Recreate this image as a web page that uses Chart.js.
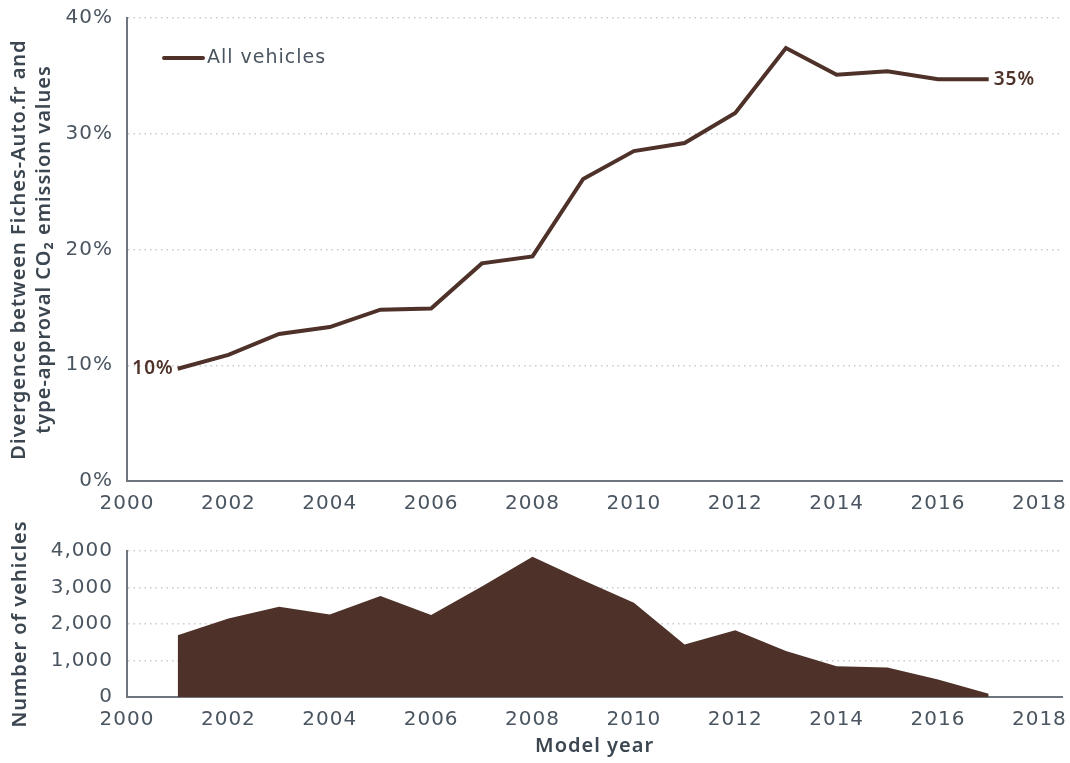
<!DOCTYPE html>
<html>
<head>
<meta charset="utf-8">
<script src="https://cdn.jsdelivr.net/npm/chart.js@4/dist/chart.umd.min.js"></script>
<style>
  body { margin: 0; background: #fff; }
  #wrap { position: relative; width: 1070px; height: 763px; }
  #top { position: absolute; left: 0; top: 0; width: 1070px; height: 520px; }
  #bottom { position: absolute; left: 0; top: 520px; width: 1070px; height: 243px; }
</style>
</head>
<body>
<div id="wrap">
  <div id="top"><canvas id="divChart"></canvas></div>
  <div id="bottom"><canvas id="countChart"></canvas></div>
</div>
<script>
// model years and values
const years = [2001, 2002, 2003, 2004, 2005, 2006, 2007, 2008, 2009, 2010, 2011, 2012, 2013, 2014, 2015, 2016, 2017];
const divergence = [9.7, 10.9, 12.7, 13.3, 14.8, 14.9, 18.8, 19.4, 26.1, 28.5, 29.2, 31.8, 37.4, 35.1, 35.4, 34.7, 34.7];
const vehicles = [1690, 2150, 2470, 2260, 2770, 2250, 3030, 3840, 3200, 2580, 1440, 1830, 1260, 840, 810, 480, 90];
const yearTicks = [2000, 2002, 2004, 2006, 2008, 2010, 2012, 2014, 2016, 2018];

const brown = '#4e3229';
const tickColor = '#4a5560';
const titleColor = '#3b4650';
const axisColor = '#6d767e';
const gridColor = '#c8cbcd';
const TICKFONT = '"DejaVu Sans", sans-serif';
const TITLEFONT = '"Noto Sans", sans-serif';

Chart.defaults.font.family = TICKFONT;
Chart.defaults.color = tickColor;

// the original typeface is wide; open the letters up a little
const spacing = {
  id: 'spacing',
  beforeUpdate(chart) { chart.ctx.letterSpacing = '1px'; },
  beforeDraw(chart) { chart.ctx.letterSpacing = '1px'; }
};

const xScale = (extra) => Object.assign({
  type: 'linear',
  min: 2000,
  max: 2018.45,
  afterBuildTicks: s => { s.ticks = yearTicks.map(v => ({ value: v })); },
  ticks: { font: { size: 20 }, color: tickColor, padding: 3, maxRotation: 0, callback: v => String(v) },
  grid: { display: false },
  border: { color: axisColor, width: 2 }
}, extra);

// fixed y axis width so both panels line up; drop the extra label padding
const fitY = s => { s.width = 127; s.paddingTop = 0; s.paddingBottom = 0; };

// end labels + legend drawn inside the plot area
const labelPlugin = {
  id: 'endLabels',
  afterDatasetsDraw(chart) {
    const { ctx, chartArea } = chart;
    const pts = chart.getDatasetMeta(0).data;
    const first = pts[0], last = pts[pts.length - 1];
    ctx.save();
    ctx.font = '600 19px ' + TITLEFONT;
    ctx.fillStyle = brown;
    ctx.textBaseline = 'middle';
    ctx.textAlign = 'right';
    ctx.fillText(Math.round(divergence[0]) + '%', first.x - 4, first.y);
    ctx.textAlign = 'left';
    ctx.fillText(Math.round(divergence[divergence.length - 1]) + '%', last.x + 5, last.y);

    const lx = chartArea.left + 37, ly = chartArea.top + 40;
    ctx.strokeStyle = brown;
    ctx.lineWidth = 4;
    ctx.lineCap = 'round';
    ctx.beginPath();
    ctx.moveTo(lx, ly);
    ctx.lineTo(lx + 39, ly);
    ctx.stroke();
    ctx.font = '19px ' + TICKFONT;
    ctx.fillStyle = tickColor;
    ctx.fillText('All vehicles', lx + 43, ly);
    ctx.restore();
  }
};

new Chart(document.getElementById('divChart'), {
  type: 'line',
  data: {
    datasets: [{
      label: 'All vehicles',
      data: years.map((y, i) => ({ x: y, y: divergence[i] })),
      borderColor: brown,
      borderWidth: 4,
      pointRadius: 0,
      tension: 0,
      fill: false
    }]
  },
  options: {
    responsive: true,
    maintainAspectRatio: false,
    animation: false,
    layout: { padding: { top: 18, right: 7, left: 0, bottom: 0 } },
    plugins: { legend: { display: false }, tooltip: { enabled: false } },
    scales: {
      x: xScale({ afterFit: s => { s.height = 39; } }),
      y: {
        min: 0,
        max: 40,
        afterFit: fitY,
        ticks: { stepSize: 10, font: { size: 20 }, color: tickColor, padding: 14, callback: v => v + '%' },
        grid: { color: gridColor, lineWidth: 1.5, drawTicks: false },
        border: { color: axisColor, width: 2, dash: [1.5, 4] },
        title: {
          display: true,
          text: ['Divergence between Fiches-Auto.fr and', 'type-approval CO\u2082 emission values'],
          font: { family: TITLEFONT, size: 20, weight: '600', lineHeight: 1.25 },
          color: titleColor,
          padding: { top: 7, bottom: 0 }
        }
      }
    }
  },
  plugins: [spacing, labelPlugin]
});

new Chart(document.getElementById('countChart'), {
  type: 'line',
  data: {
    datasets: [{
      label: 'Number of vehicles',
      data: years.map((y, i) => ({ x: y, y: vehicles[i] })),
      borderColor: brown,
      borderWidth: 0,
      backgroundColor: brown,
      pointRadius: 0,
      tension: 0,
      fill: 'origin'
    }]
  },
  options: {
    responsive: true,
    maintainAspectRatio: false,
    animation: false,
    layout: { padding: { top: 31, right: 7, left: 0, bottom: 0 } },
    plugins: { legend: { display: false }, tooltip: { enabled: false } },
    scales: {
      x: xScale({
        afterFit: s => { s.height = 66; },
        title: { display: true, text: 'Model year', font: { family: TITLEFONT, size: 20, weight: '600' }, color: titleColor, padding: { top: 2, bottom: 5 } }
      }),
      y: {
        min: 0,
        max: 4000,
        afterFit: fitY,
        ticks: { stepSize: 1000, font: { size: 20 }, color: tickColor, padding: 14, callback: v => v.toLocaleString('en-US') },
        grid: { color: gridColor, lineWidth: 1.5, drawTicks: false },
        border: { color: axisColor, width: 2, dash: [1.5, 4] },
        title: {
          display: true,
          text: 'Number of vehicles',
          font: { family: TITLEFONT, size: 20, weight: '600' },
          color: titleColor,
          padding: { top: 8, bottom: 0 }
        }
      }
    }
  },
  plugins: [spacing]
});
</script>
</body>
</html>
